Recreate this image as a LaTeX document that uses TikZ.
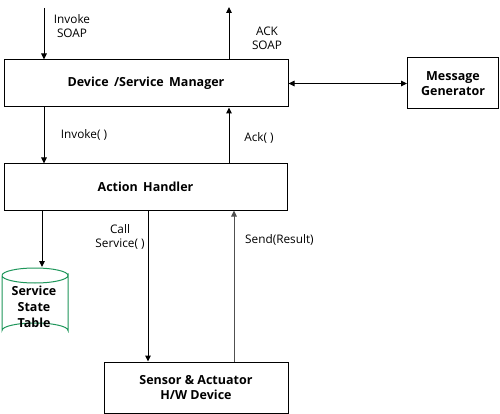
\documentclass[tikz,border=0pt]{standalone}
\usepackage{fontspec}
\setmainfont{Open Sans}
\usetikzlibrary{arrows.meta}
\definecolor{cylgreen}{RGB}{30,150,90}
\definecolor{grayline}{RGB}{80,80,80}
\begin{document}
\begin{tikzpicture}[x=1pt,y=-1pt,
  box/.style={draw,line width=1pt,inner sep=0pt,font=\fontsize{12.5}{15.5}\selectfont\bfseries,align=center},
  lbl/.style={font=\fontsize{11.8}{14}\selectfont,align=center,inner sep=0pt},
  arr/.style={line width=1pt,-{Triangle[length=6pt,width=5.5pt]}},
  darr/.style={line width=1pt,{Triangle[length=6pt,width=5.5pt]}-{Triangle[length=6pt,width=5.5pt]}}]
\useasboundingbox (0,0) rectangle (500,414);
\node[box,minimum width=284pt,minimum height=47pt] (dsm) at (146,83.5) {Device \,/Service\, Manager};
\node[box,minimum width=91pt,minimum height=51pt] (mg) at (453,83.5) {Message\\Generator};
\node[box,minimum width=283pt,minimum height=46pt] (ah) at (145.5,187) {Action\, Handler};
\node[box,minimum width=184pt,minimum height=51pt] (sa) at (196,387.5) {Sensor \& Actuator\\H/W Device};
% cylinder
\draw[cylgreen,line width=1pt,fill=white] (2,275.5) -- (2,330.5) arc[start angle=180,end angle=360,x radius=33,y radius=7.5] -- (68,275.5) arc[start angle=0,end angle=180,x radius=33,y radius=7.5];
\draw[cylgreen,line width=1pt] (2,275.5) arc[start angle=180,end angle=360,x radius=33,y radius=7.5];
\node[font=\fontsize{12.5}{16}\selectfont\bfseries,align=center,inner sep=0pt] (sst) at (34,307) {Service\\State\\Table};
\coordinate (cyltop) at (42,267);
% top arrows
\coordinate (inTop) at (44,8);
\coordinate (ackTop) at (229,7);
\draw[arr] (inTop) -- (inTop |- dsm.north);
\draw[arr] (ackTop |- dsm.north) -- (ackTop);
\node[lbl] (l1) at (72,26.5) {Invoke\\SOAP};
\node[lbl] (l2) at (267,38.5) {ACK\\SOAP};
\draw[darr] (dsm.east) -- (mg.west);
% middle arrows
\draw[arr] (dsm.south -| inTop) -- (ah.north -| inTop);
\draw[arr] (ah.north -| ackTop) -- (dsm.south -| ackTop);
\node[lbl] (l3) at (84,135) {Invoke( )};
\node[lbl] (l4) at (259,138) {Ack( )};
% bottom arrows
\draw[arr] (ah.south -| cyltop) -- (cyltop);
\draw[arr] (ah.south -| 148,0) -- (sa.north -| 148,0);
\draw[arr,grayline] (sa.north -| 234,0) -- (ah.south -| 234,0);
\node[lbl] (l5) at (120,237) {Call\\Service( )};
\node[lbl,anchor=west] (l6) at (245,240) {Send(Result)};
\end{tikzpicture}
\end{document}
